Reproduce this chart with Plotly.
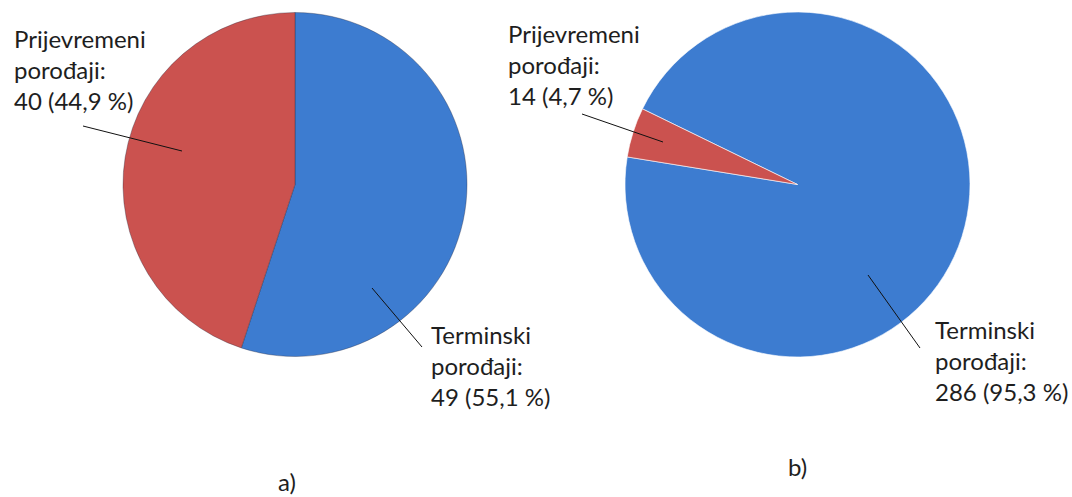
import plotly.graph_objects as go

# Data
categories = ["Terminski porođaji", "Prijevremeni porođaji"]
values_a = [49, 40]
pct_a = ["55,1 %", "44,9 %"]
values_b = [286, 14]
pct_b = ["95,3 %", "4,7 %"]
panel_labels = ["a)", "b)"]

W, H = 1072, 497
colors = ["#3d7cd0", "#cb524f"]

def px(x):
    return x / W

def py(y):
    return 1 - y / H

fig = go.Figure()

fig.add_trace(go.Pie(
    labels=categories, values=values_a, sort=False, direction="clockwise",
    rotation=0, textinfo="none", hoverinfo="label+value+percent",
    marker=dict(colors=colors, line=dict(color="rgba(40,40,60,0.35)", width=1)),
    domain=dict(x=[px(123), px(467)], y=[py(357), py(12)]),
    showlegend=False,
))

# right pie: small slice placed at the left side
rot_b = 296 - 360
fig.add_trace(go.Pie(
    labels=categories, values=values_b, sort=False, direction="clockwise",
    rotation=rot_b, textinfo="none", hoverinfo="label+value+percent",
    marker=dict(colors=colors, line=dict(color="rgba(255,255,255,0.6)", width=1)),
    domain=dict(x=[px(625), px(970)], y=[py(357), py(12)]),
    showlegend=False,
))

font = dict(family="Lato, 'Liberation Sans', sans-serif", size=24, color="#1e1e1e")

def label_text(cat, v, p):
    a, b = cat.split(" ")
    return f"{a}<br>{b}:<br>{v} ({p})"

texts = [
    (label_text(categories[1], values_a[1], pct_a[1]), 12, 22),
    (label_text(categories[0], values_a[0], pct_a[0]), 429, 318),
    (label_text(categories[1], values_b[1], pct_b[1]), 506, 17),
    (label_text(categories[0], values_b[0], pct_b[0]), 933, 313),
]
annotations = []
for t, x, y in texts:
    annotations.append(dict(
        text=t, x=px(x), y=py(y), xref="paper", yref="paper",
        xanchor="left", yanchor="top", align="left", showarrow=False, font=font,
    ))

for lab, x, y in zip(panel_labels, [287, 797], [481, 466]):
    annotations.append(dict(
        text=lab, x=px(x), y=py(y), xref="paper", yref="paper",
        xanchor="center", yanchor="middle", showarrow=False, font=font,
    ))

leaders = [
    ((83, 126), (182, 151)),
    ((372, 288), (422, 347)),
    ((582, 114), (663, 142)),
    ((868, 275), (920, 348)),
]
shapes = []
for (x0, y0), (x1, y1) in leaders:
    shapes.append(dict(
        type="line", xref="paper", yref="paper",
        x0=px(x0), y0=py(y0), x1=px(x1), y1=py(y1),
        line=dict(color="#111111", width=1),
    ))

fig.update_layout(
    width=W, height=H,
    margin=dict(l=0, r=0, t=0, b=0),
    paper_bgcolor="white", plot_bgcolor="white",
    annotations=annotations, shapes=shapes,
)

fig.write_html(
    "out.html",
    config={"displayModeBar": False},
    post_script="document.body.style.margin='0';document.body.style.padding='0';",
)
